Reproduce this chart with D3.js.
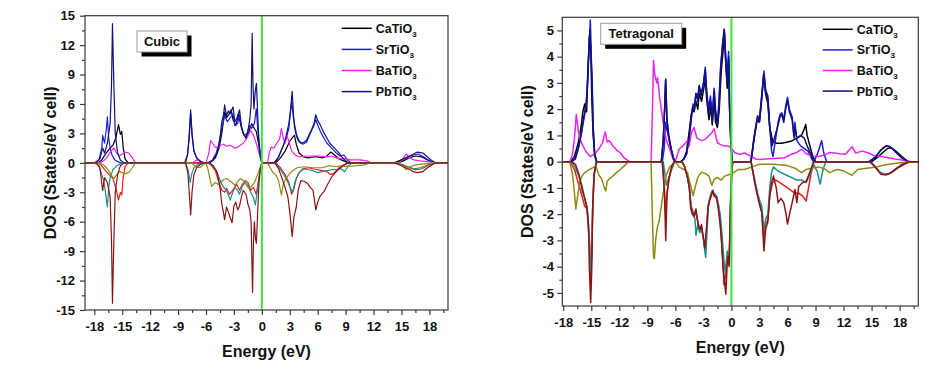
<!DOCTYPE html>
<html>
<head>
<meta charset="utf-8">
<script src="https://d3js.org/d3.v7.min.js"></script>
<style>
  body { margin: 0; background: #fff; }
  svg text { font-family: "Liberation Sans", Arial, sans-serif; font-weight: bold; fill: #111; }
</style>
</head>
<body>
<svg id="chart" width="939" height="371"></svg>
<script>
// legend names (subscript 3 added when drawing)
const compounds = ["CaTiO", "SrTiO", "BaTiO", "PbTiO"];
const upColors = ["#000000", "#1c1ce8", "#ee22ee", "#12127e"];
const downColors = ["#ee1c1c", "#1a9090", "#8c8c14", "#8a1414"];

const xTicks = [-18, -15, -12, -9, -6, -3, 0, 3, 6, 9, 12, 15, 18];
const cubicYTicks = [-15, -12, -9, -6, -3, 0, 3, 6, 9, 12, 15];
const tetraYTicks = [-5, -4, -3, -2, -1, 0, 1, 2, 3, 4, 5];

// ---- Cubic, spin up: [energy eV, DOS]
const cubicCaUp = [[-17.6,0],[-17.2,0.3],[-16.8,0.9],[-16.4,1.4],[-16.0,1.8],[-15.7,2.5],[-15.4,3.9],[-15.2,2.9],[-15.05,3.2],[-14.9,1.6],[-14.7,0.4],[-14.4,0.05],[-14.0,0],
  [-5.8,0],[-5.4,0.2],[-5.0,0.5],[-4.6,1.5],[-4.3,3.0],[-4.0,5.2],[-3.8,4.6],[-3.5,5.0],[-3.3,5.4],[-3.1,4.4],[-2.8,3.8],[-2.5,5.0],[-2.3,4.0],[-2.0,3.0],[-1.7,2.6],[-1.4,3.2],[-1.1,4.0],[-0.8,3.5],[-0.6,3.2],[-0.4,2.2],[-0.2,1.0],[0,0],
  [1.5,0],[2.0,0.5],[2.5,1.2],[3.0,2.2],[3.3,2.6],[3.5,2.8],[3.7,1.9],[4.0,1.0],[4.5,0.6],[5.0,0.5],[5.5,0.6],[6.0,0.6],[6.5,0.5],[7.0,0.7],[7.4,1.1],[7.8,0.8],[8.3,0.4],[8.8,0.2],[9.3,0],
  [14.5,0],[15.2,0.2],[15.8,0.5],[16.5,0.7],[17.2,0.6],[17.8,0.3],[18.5,0]];
const cubicSrUp = [[-18.0,0],[-17.5,0.3],[-17.2,1.5],[-17.1,2.8],[-16.9,2.0],[-16.7,3.5],[-16.6,4.7],[-16.45,2.5],[-16.3,1.5],[-16.1,0.8],[-15.8,0.3],[-15.3,0.05],[-15.0,0],
  [-8.3,0],[-8.0,0.8],[-7.8,2.5],[-7.65,5.0],[-7.5,2.8],[-7.3,1.2],[-7.0,0.5],[-6.7,0.2],[-6.3,0],
  [-5.7,0],[-5.3,0.3],[-4.9,1.0],[-4.6,2.0],[-4.3,3.5],[-4.0,4.8],[-3.7,4.2],[-3.4,4.6],[-3.1,5.0],[-2.9,3.8],[-2.6,4.0],[-2.4,4.9],[-2.2,3.6],[-1.9,2.8],[-1.6,3.0],[-1.3,3.8],[-1.1,3.5],[-0.8,4.0],[-0.6,5.5],[-0.4,3.0],[-0.2,1.2],[0,0],
  [1.3,0],[1.8,0.6],[2.2,1.5],[2.6,2.5],[2.9,3.5],[3.2,6.3],[3.4,4.5],[3.7,3.0],[4.0,2.2],[4.4,1.9],[4.8,2.1],[5.2,3.0],[5.6,3.8],[5.8,4.4],[6.1,3.6],[6.5,2.8],[7.0,2.0],[7.5,1.5],[8.0,1.0],[8.4,0.7],[8.8,0.8],[9.2,0.3],[9.6,0],
  [14.2,0],[15.0,0.3],[15.6,0.6],[16.3,0.8],[16.8,0.9],[17.4,0.6],[18.0,0.2],[18.6,0]];
const cubicBaUp = [[-17.5,0],[-17.0,0.2],[-16.6,0.6],[-16.2,1.2],[-15.9,1.5],[-15.6,1.0],[-15.3,0.7],[-15.0,0.9],[-14.7,1.1],[-14.3,1.0],[-13.9,0.5],[-13.6,0],
  [-7.4,0],[-7.1,0.25],[-6.8,0.3],[-6.5,0.1],[-6.2,0],
  [-6.0,0],[-5.7,1.0],[-5.5,2.3],[-5.3,2.0],[-5.0,1.6],[-4.7,1.5],[-4.4,1.8],[-4.1,1.9],[-3.8,1.7],[-3.5,1.8],[-3.2,1.7],[-2.9,1.5],[-2.6,1.6],[-2.3,1.8],[-2.0,2.0],[-1.7,2.4],[-1.5,2.7],[-1.2,3.3],[-0.9,2.8],[-0.6,2.0],[-0.3,1.0],[0,0],
  [0.6,0],[0.8,1.0],[1.0,1.6],[1.3,1.5],[1.6,2.0],[1.9,2.4],[2.1,3.5],[2.3,2.5],[2.5,2.0],[2.7,2.8],[2.9,2.2],[3.2,1.2],[3.6,0.8],[4.0,0.6],[5.0,0.7],[6.0,0.7],[7.0,0.6],[7.5,0.7],[8.0,0.5],[8.5,0.4],[9.0,0.4],[9.5,0.3],[10.5,0.3],[11.3,0.2],[11.7,0],
  [14.8,0],[15.2,0.5],[15.5,0.9],[15.8,0.6],[16.3,0.3],[17.0,0.2],[18.0,0.1],[18.6,0]];
const cubicPbUp = [[-17.8,0],[-17.4,0.4],[-17.1,1.5],[-16.9,1.0],[-16.6,2.0],[-16.3,4.0],[-16.15,8.0],[-16.05,14.2],[-15.9,8.0],[-15.75,3.0],[-15.5,1.0],[-15.2,0.3],[-14.8,0],
  [-8.2,0],[-7.95,1.0],[-7.8,3.0],[-7.65,5.4],[-7.5,3.0],[-7.3,1.2],[-7.0,0.5],[-6.6,0.15],[-6.2,0],
  [-5.6,0],[-5.2,0.3],[-4.8,1.0],[-4.5,2.5],[-4.3,4.2],[-4.1,5.0],[-4.0,5.9],[-3.8,4.8],[-3.6,5.3],[-3.4,5.0],[-3.1,5.7],[-2.9,4.2],[-2.7,4.5],[-2.4,5.4],[-2.2,3.8],[-2.0,3.0],[-1.7,2.5],[-1.5,3.2],[-1.3,4.4],[-1.15,6.0],[-1.04,13.2],[-0.95,8.0],[-0.85,5.5],[-0.7,7.4],[-0.58,8.1],[-0.45,5.0],[-0.3,2.0],[-0.15,0.5],[0,0],
  [1.4,0],[1.8,0.6],[2.1,1.3],[2.4,2.0],[2.6,2.7],[2.9,4.0],[3.1,5.5],[3.26,7.3],[3.4,5.0],[3.5,3.7],[3.7,2.8],[3.9,2.3],[4.2,2.0],[4.5,2.1],[4.8,2.3],[5.1,2.9],[5.3,3.3],[5.6,4.0],[5.8,4.9],[6.0,4.3],[6.2,4.0],[6.5,3.4],[6.7,3.0],[7.0,2.5],[7.3,2.0],[7.6,1.7],[7.8,1.5],[8.1,1.2],[8.3,1.0],[8.6,0.6],[8.9,0.3],[9.3,0],
  [14.3,0],[15.0,0.3],[15.7,0.6],[16.3,0.9],[16.7,1.1],[17.3,1.0],[17.8,0.6],[18.3,0.2],[18.7,0]];

// ---- Cubic, spin down
const cubicCaDn = [[-17.6,0],[-17.2,-0.3],[-16.8,-0.8],[-16.4,-1.2],[-16.0,-1.6],[-15.7,-2.5],[-15.4,-3.8],[-15.2,-3.0],[-15.05,-3.3],[-14.9,-1.5],[-14.7,-0.4],[-14.4,0],
  [-5.8,0],[-5.4,-0.3],[-5.0,-0.8],[-4.6,-2.0],[-4.3,-2.8],[-4.0,-3.0],[-3.8,-2.6],[-3.5,-3.2],[-3.3,-3.0],[-3.0,-2.6],[-2.7,-2.2],[-2.4,-2.8],[-2.1,-2.2],[-1.8,-1.8],[-1.5,-2.0],[-1.2,-2.8],[-0.9,-2.5],[-0.6,-3.2],[-0.4,-2.0],[-0.2,-0.8],[0,0],
  [1.5,0],[2.0,-0.5],[2.5,-1.2],[2.9,-2.0],[3.2,-3.2],[3.4,-2.8],[3.7,-1.6],[4.0,-1.0],[4.5,-0.6],[5.0,-0.5],[5.5,-0.6],[6.0,-0.7],[6.5,-0.8],[7.0,-0.9],[7.4,-1.2],[7.8,-1.0],[8.3,-0.5],[8.8,-0.2],[9.3,0],
  [14.5,0],[15.2,-0.2],[15.8,-0.5],[16.5,-0.7],[17.2,-0.6],[17.8,-0.3],[18.5,0]];
const cubicSrDn = [[-18.0,0],[-17.5,-0.3],[-17.2,-1.2],[-17.0,-1.8],[-16.8,-3.0],[-16.6,-4.5],[-16.45,-2.5],[-16.3,-1.5],[-16.0,-0.7],[-15.6,-0.3],[-15.0,0],
  [-8.2,0],[-7.9,-0.8],[-7.7,-2.0],[-7.55,-1.2],[-7.3,-0.5],[-6.9,-0.2],[-6.4,0],
  [-5.7,0],[-5.3,-0.3],[-4.9,-0.8],[-4.6,-1.5],[-4.3,-2.2],[-4.0,-2.6],[-3.7,-3.0],[-3.4,-3.8],[-3.2,-3.2],[-2.9,-2.5],[-2.6,-2.8],[-2.4,-3.2],[-2.1,-2.4],[-1.8,-2.0],[-1.5,-2.3],[-1.2,-3.0],[-0.9,-3.5],[-0.7,-4.3],[-0.5,-3.0],[-0.3,-1.5],[-0.1,-0.4],[0,0],
  [1.3,0],[1.8,-0.4],[2.2,-1.0],[2.6,-1.6],[3.0,-2.4],[3.3,-3.0],[3.6,-1.8],[4.0,-1.0],[4.4,-0.6],[5.0,-0.7],[5.5,-0.8],[6.0,-1.0],[6.5,-0.9],[7.0,-0.8],[7.5,-0.7],[8.0,-0.7],[8.5,-0.6],[8.9,-0.9],[9.3,-0.3],[9.7,0],
  [14.2,0],[15.0,-0.2],[15.7,-0.4],[16.4,-0.6],[17.0,-0.5],[17.6,-0.3],[18.3,0]];
const cubicBaDn = [[-17.5,0],[-17.0,-0.2],[-16.6,-0.6],[-16.2,-1.2],[-15.9,-1.6],[-15.6,-1.2],[-15.3,-0.9],[-15.0,-1.0],[-14.7,-1.1],[-14.3,-1.0],[-13.9,-0.5],[-13.6,0],
  [-7.6,0],[-7.3,-0.2],[-7.0,-0.4],[-6.7,-0.5],[-6.4,-0.3],[-6.1,0],
  [-6.0,0],[-5.8,-0.6],[-5.6,-1.5],[-5.4,-2.4],[-5.2,-2.2],[-5.0,-2.0],[-4.7,-2.2],[-4.4,-2.0],[-4.1,-1.7],[-3.8,-1.6],[-3.5,-1.8],[-3.2,-2.0],[-2.9,-2.3],[-2.6,-1.9],[-2.3,-1.6],[-2.0,-1.8],[-1.7,-2.2],[-1.4,-2.6],[-1.1,-2.4],[-0.8,-2.0],[-0.5,-1.3],[-0.2,-0.5],[0,0],
  [0.6,0],[0.9,-0.5],[1.2,-1.0],[1.5,-1.2],[1.8,-1.8],[2.1,-3.3],[2.3,-2.2],[2.6,-1.6],[2.9,-1.2],[3.3,-0.8],[3.8,-0.5],[4.5,-0.4],[5.5,-0.5],[6.5,-0.5],[7.2,-0.3],[8.0,-0.4],[8.5,-0.3],[9.0,-0.35],[10.0,-0.3],[11.0,-0.2],[11.6,0],
  [14.8,0],[15.2,-0.4],[15.5,-0.7],[15.9,-0.4],[16.5,-0.2],[17.5,-0.1],[18.5,0]];
const cubicPbDn = [[-17.8,0],[-17.4,-0.5],[-17.1,-2.8],[-16.9,-1.5],[-16.6,-2.0],[-16.3,-3.5],[-16.15,-8.0],[-16.05,-14.3],[-15.9,-8.0],[-15.75,-3.0],[-15.5,-1.2],[-15.2,-0.3],[-14.8,0],
  [-8.2,0],[-7.95,-1.0],[-7.8,-3.0],[-7.65,-5.3],[-7.5,-3.0],[-7.3,-1.2],[-7.0,-0.5],[-6.6,-0.15],[-6.2,0],
  [-5.6,0],[-5.2,-0.3],[-4.8,-1.0],[-4.5,-2.5],[-4.3,-4.2],[-4.1,-5.2],[-4.0,-5.8],[-3.8,-4.5],[-3.6,-5.0],[-3.4,-5.6],[-3.2,-6.1],[-3.0,-4.4],[-2.8,-4.0],[-2.6,-4.8],[-2.4,-4.4],[-2.2,-3.5],[-2.0,-2.8],[-1.7,-3.2],[-1.5,-4.2],[-1.3,-4.8],[-1.15,-6.0],[-1.0,-13.2],[-0.9,-8.0],[-0.8,-6.0],[-0.68,-7.8],[-0.58,-8.2],[-0.45,-5.0],[-0.3,-2.0],[-0.15,-0.5],[0,0],
  [1.4,0],[1.8,-0.6],[2.1,-1.4],[2.5,-2.5],[2.8,-3.5],[3.0,-5.0],[3.26,-7.5],[3.45,-5.5],[3.7,-4.5],[3.9,-2.8],[4.2,-1.8],[4.6,-1.9],[4.9,-2.1],[5.2,-2.5],[5.5,-2.8],[5.8,-4.8],[6.0,-4.0],[6.2,-3.5],[6.5,-3.1],[6.7,-2.9],[7.0,-2.3],[7.3,-1.8],[7.6,-1.3],[7.8,-1.1],[8.2,-0.7],[8.6,-0.4],[9.0,-0.15],[9.3,0],
  [14.3,0],[15.0,-0.3],[15.7,-0.6],[16.3,-0.9],[16.7,-1.0],[17.3,-0.9],[17.8,-0.5],[18.3,-0.2],[18.7,0]];

// ---- Tetragonal, spin up
const tetraCaUp = [[-17.2,0],[-16.8,0.2],[-16.4,0.7],[-16.1,1.3],[-15.9,1.9],[-15.7,2.2],[-15.5,1.9],[-15.35,3.5],[-15.2,4.8],[-15.05,4.4],[-14.95,2.5],[-14.8,1.0],[-14.6,0.2],[-14.4,0],
  [-7.5,0],[-7.3,0.8],[-7.15,2.0],[-7.05,3.1],[-6.9,1.6],[-6.7,0.9],[-6.45,0.45],[-6.2,0.1],[-6.0,0],
  [-5.4,0],[-5.1,0.1],[-4.8,0.4],[-4.5,1.2],[-4.3,1.8],[-4.15,2.0],[-4.0,1.9],[-3.8,2.3],[-3.6,2.0],[-3.45,2.6],[-3.2,2.3],[-2.95,2.8],[-2.8,3.2],[-2.65,2.4],[-2.4,1.6],[-2.2,2.1],[-2.05,1.4],[-1.85,2.4],[-1.7,1.5],[-1.5,1.3],[-1.3,2.0],[-1.1,3.4],[-0.9,4.2],[-0.75,4.9],[-0.6,3.7],[-0.45,2.8],[-0.3,3.9],[-0.2,2.0],[-0.05,0.6],[0.1,0],
  [2.1,0],[2.4,0.8],[2.75,1.6],[3.0,1.5],[3.2,2.2],[3.45,3.3],[3.65,2.6],[3.9,2.2],[4.1,1.3],[4.4,0.8],[4.8,0.7],[5.4,0.7],[6.0,0.75],[6.5,0.8],[7.0,0.9],[7.5,1.0],[7.75,1.2],[7.95,1.42],[8.1,1.0],[8.4,0.6],[8.7,0.2],[9.0,0],
  [15.0,0],[15.6,0.15],[16.2,0.35],[16.7,0.5],[17.1,0.53],[17.6,0.4],[18.2,0.2],[18.9,0]];
const tetraSrUp = [[-17.2,0],[-16.8,0.1],[-16.5,0.35],[-16.2,0.8],[-15.9,1.4],[-15.7,1.8],[-15.5,2.3],[-15.35,3.6],[-15.2,4.6],[-15.1,5.4],[-15.0,4.0],[-14.9,3.0],[-14.8,1.3],[-14.65,0.3],[-14.45,0],
  [-7.4,0],[-7.2,0.5],[-7.05,1.5],[-6.9,1.2],[-6.7,0.9],[-6.45,0.5],[-6.2,0.15],[-6.0,0],
  [-5.4,0],[-5.1,0.1],[-4.8,0.3],[-4.5,0.9],[-4.3,1.6],[-4.1,2.2],[-3.95,2.0],[-3.8,2.6],[-3.6,2.5],[-3.45,2.9],[-3.25,2.6],[-3.0,2.9],[-2.8,3.6],[-2.65,2.7],[-2.45,2.0],[-2.25,2.5],[-2.05,1.8],[-1.85,2.8],[-1.7,2.0],[-1.5,1.5],[-1.35,2.2],[-1.15,3.6],[-0.95,4.4],[-0.75,5.0],[-0.6,4.0],[-0.45,3.2],[-0.3,4.2],[-0.2,2.2],[-0.05,0.7],[0.1,0],
  [2.1,0],[2.4,0.9],[2.8,1.75],[3.0,1.6],[3.2,2.4],[3.48,3.45],[3.66,2.75],[3.9,2.5],[4.1,1.35],[4.3,0.4],[4.45,0.2],[4.7,0.8],[5.0,1.5],[5.2,1.8],[5.4,1.86],[5.6,1.6],[5.8,2.1],[6.0,2.45],[6.2,2.0],[6.5,1.7],[6.7,1.0],[6.8,1.5],[7.0,0.8],[7.4,0.6],[7.8,0.5],[8.2,0.4],[8.6,0.1],[8.8,0],[9.1,0.2],[9.4,0.5],[9.65,0.8],[9.9,0.3],[10.2,0],
  [14.7,0],[15.3,0.15],[15.9,0.4],[16.5,0.6],[16.9,0.58],[17.5,0.4],[18.2,0.15],[18.9,0]];
const tetraBaUp = [[-17.3,0],[-17.0,0.3],[-16.8,0.9],[-16.6,1.8],[-16.4,1.2],[-16.2,0.85],[-15.9,0.6],[-15.5,0.35],[-15.1,0.2],[-14.6,0.3],[-14.2,0.47],[-13.8,0.72],[-13.5,1.13],[-13.3,0.75],[-13.1,0.8],[-12.9,0.72],[-12.7,0.6],[-12.3,0.45],[-11.9,0.34],[-11.5,0.15],[-10.9,0],
  [-8.6,0],[-8.45,2.0],[-8.34,3.86],[-8.2,3.3],[-8.0,3.0],[-7.9,3.2],[-7.7,2.5],[-7.5,2.0],[-7.3,1.5],[-7.0,0.85],[-6.6,0.47],[-6.3,0.15],[-6.1,0],
  [-6.0,0],[-5.6,0.47],[-5.2,0.6],[-4.7,0.8],[-4.5,0.6],[-4.3,1.1],[-4.0,1.3],[-3.7,0.9],[-3.2,0.8],[-2.8,0.85],[-2.4,1.0],[-2.1,1.1],[-1.85,1.25],[-1.5,0.72],[-1.2,0.66],[-0.8,0.6],[-0.4,0.6],[-0.1,0.55],[0.37,0.34],[0.9,0.28],[1.4,0.33],[2.0,0.22],[2.6,0.1],[3.0,0.08],[4.5,0.12],[5.7,0.15],[6.4,0.28],[7.0,0.35],[7.5,0.47],[8.0,0.3],[8.6,0.22],[9.3,0.2],[10.0,0.25],[10.5,0.35],[11.0,0.33],[11.6,0.3],[12.2,0.28],[12.9,0.57],[13.3,0.33],[14.0,0.4],[14.7,0.33],[15.4,0.2],[16.1,0.2],[16.8,0.15],[17.5,0.1],[18.4,0.05],[19.3,0]];
const tetraPbUp = [[-17.1,0],[-16.7,0.1],[-16.4,0.5],[-16.1,1.0],[-15.85,1.6],[-15.6,2.1],[-15.45,2.6],[-15.3,3.8],[-15.15,5.0],[-15.05,4.2],[-14.95,3.4],[-14.8,1.4],[-14.65,0.3],[-14.45,0],
  [-7.5,0],[-7.3,0.8],[-7.15,2.0],[-7.03,3.15],[-6.9,1.6],[-6.7,1.0],[-6.45,0.47],[-6.2,0.1],[-6.0,0],
  [-5.4,0],[-5.1,0.1],[-4.8,0.3],[-4.5,1.0],[-4.3,1.7],[-4.15,2.1],[-4.0,2.0],[-3.8,2.6],[-3.6,2.3],[-3.45,2.9],[-3.25,2.5],[-3.0,3.0],[-2.8,3.5],[-2.65,2.6],[-2.45,1.8],[-2.25,2.3],[-2.05,1.5],[-1.85,2.7],[-1.7,1.8],[-1.5,1.4],[-1.35,2.0],[-1.15,3.6],[-0.95,4.5],[-0.78,5.05],[-0.62,3.9],[-0.45,3.0],[-0.3,4.0],[-0.2,2.1],[-0.05,0.6],[0.1,0],
  [2.1,0],[2.4,0.85],[2.8,1.7],[3.0,1.55],[3.2,2.3],[3.48,3.35],[3.66,2.65],[3.9,2.4],[4.1,1.3],[4.35,0.6],[4.6,0.9],[5.0,1.4],[5.2,1.7],[5.4,1.8],[5.6,1.5],[5.8,2.0],[6.0,2.35],[6.2,1.9],[6.5,1.6],[6.7,0.9],[6.8,1.3],[7.0,0.9],[7.4,1.0],[7.8,0.9],[8.1,0.6],[8.5,0.3],[8.8,0],
  [14.9,0],[15.5,0.2],[16.0,0.45],[16.6,0.6],[17.0,0.57],[17.5,0.4],[18.2,0.15],[18.9,0]];

// ---- Tetragonal, spin down
const tetraCaDn = [[-17.3,0],[-16.8,-0.3],[-16.4,-0.8],[-16.0,-1.3],[-15.7,-1.7],[-15.45,-1.8],[-15.3,-2.6],[-15.17,-3.1],[-15.06,-4.5],[-14.95,-3.6],[-14.85,-1.8],[-14.7,-0.5],[-14.5,-0.1],[-14.4,0],
  [-7.4,0],[-7.2,-0.8],[-7.05,-2.0],[-6.9,-1.2],[-6.7,-0.7],[-6.45,-0.3],[-6.1,0],
  [-5.3,0],[-5.0,-0.2],[-4.7,-0.6],[-4.5,-1.0],[-4.35,-1.8],[-4.2,-2.0],[-4.0,-2.1],[-3.8,-1.9],[-3.6,-2.3],[-3.4,-2.6],[-3.2,-2.5],[-3.0,-2.95],[-2.85,-3.3],[-2.7,-2.8],[-2.5,-1.8],[-2.35,-1.5],[-2.15,-1.3],[-2.0,-1.1],[-1.85,-1.3],[-1.6,-1.4],[-1.4,-1.7],[-1.2,-2.3],[-1.05,-3.0],[-0.9,-3.9],[-0.8,-4.7],[-0.65,-4.4],[-0.5,-3.6],[-0.35,-3.5],[-0.24,-4.0],[-0.12,-2.0],[0.05,-0.3],[0.15,0],
  [2.1,0],[2.5,-0.8],[2.8,-1.3],[3.05,-1.6],[3.25,-1.9],[3.48,-2.9],[3.66,-2.4],[3.9,-2.2],[4.1,-1.3],[4.4,-0.8],[4.7,-0.7],[5.2,-0.8],[5.6,-0.9],[6.0,-1.0],[6.4,-1.1],[6.8,-1.2],[7.2,-1.2],[7.6,-1.3],[8.0,-1.5],[8.2,-1.1],[8.5,-0.5],[8.8,0],
  [14.9,0],[15.6,-0.3],[16.1,-0.48],[16.6,-0.5],[17.2,-0.4],[17.8,-0.25],[18.5,-0.1],[19.2,0]];
const tetraSrDn = [[-17.2,0],[-16.8,-0.15],[-16.4,-0.5],[-16.0,-0.9],[-15.7,-1.4],[-15.45,-1.7],[-15.3,-2.4],[-15.15,-3.6],[-15.05,-4.2],[-14.95,-3.5],[-14.85,-1.8],[-14.7,-0.5],[-14.45,0],
  [-7.3,0],[-7.1,-0.5],[-6.95,-0.9],[-6.7,-0.6],[-6.4,-0.3],[-6.1,0],
  [-5.3,0],[-5.0,-0.2],[-4.7,-0.6],[-4.5,-1.0],[-4.3,-1.7],[-4.1,-1.9],[-3.9,-2.2],[-3.8,-2.8],[-3.6,-2.4],[-3.4,-2.7],[-3.2,-2.6],[-3.0,-2.9],[-2.85,-3.4],[-2.75,-3.65],[-2.6,-2.6],[-2.45,-1.6],[-2.25,-1.3],[-2.05,-1.1],[-1.85,-1.2],[-1.6,-1.3],[-1.4,-1.6],[-1.2,-2.0],[-1.05,-2.6],[-0.9,-3.3],[-0.75,-4.0],[-0.6,-4.3],[-0.45,-3.4],[-0.3,-3.7],[-0.2,-3.2],[-0.08,-1.2],[0.1,0],
  [2.1,0],[2.5,-0.7],[2.8,-1.2],[3.05,-1.5],[3.25,-1.7],[3.48,-2.6],[3.66,-2.2],[3.9,-2.0],[4.1,-1.0],[4.3,-0.4],[4.5,-0.2],[4.8,-0.3],[5.2,-0.4],[5.8,-0.5],[6.4,-0.6],[7.0,-0.7],[7.5,-0.7],[8.0,-0.8],[8.4,-0.5],[8.8,-0.1],[9.2,-0.4],[9.5,-0.85],[9.8,-0.3],[10.1,0],
  [14.7,0],[15.3,-0.15],[15.9,-0.4],[16.4,-0.48],[16.9,-0.45],[17.5,-0.3],[18.2,-0.1],[18.9,0]];
const tetraBaDn = [[-17.3,0],[-17.0,-0.5],[-16.8,-1.2],[-16.65,-1.8],[-16.45,-1.3],[-16.25,-0.8],[-16.0,-0.55],[-15.7,-0.42],[-15.2,-0.3],[-14.5,-0.17],[-14.2,-0.5],[-13.9,-0.65],[-13.6,-1.0],[-13.45,-1.12],[-13.3,-0.75],[-13.1,-0.67],[-12.7,-0.55],[-12.3,-0.42],[-11.9,-0.3],[-11.5,-0.17],[-11.0,0],
  [-8.6,0],[-8.45,-2.2],[-8.34,-3.6],[-8.25,-3.7],[-8.1,-2.95],[-7.9,-2.45],[-7.75,-2.3],[-7.55,-1.8],[-7.35,-1.3],[-7.0,-0.55],[-6.6,-0.2],[-6.2,-0.05],[-6.05,0],
  [-6.0,0],[-5.6,-0.2],[-5.1,-0.3],[-4.7,-0.42],[-4.35,-0.93],[-4.1,-1.3],[-3.9,-1.0],[-3.6,-0.6],[-3.2,-0.4],[-2.8,-0.45],[-2.4,-0.55],[-2.1,-0.9],[-1.85,-0.67],[-1.5,-0.6],[-1.1,-0.7],[-0.7,-0.55],[-0.3,-0.5],[0.1,-0.45],[0.7,-0.3],[1.4,-0.3],[2.2,-0.2],[3.0,-0.1],[4.5,-0.1],[6.0,-0.15],[6.8,-0.25],[7.5,-0.42],[8.0,-0.3],[8.6,-0.25],[9.3,-0.2],[10.0,-0.28],[10.5,-0.42],[11.3,-0.3],[12.0,-0.35],[12.9,-0.52],[13.5,-0.3],[14.5,-0.25],[15.5,-0.2],[16.5,-0.12],[17.8,-0.05],[19.3,0]];
const tetraPbDn = [[-17.1,0],[-16.7,-0.1],[-16.3,-0.5],[-16.0,-1.05],[-15.7,-1.4],[-15.45,-1.8],[-15.3,-2.4],[-15.2,-4.1],[-15.06,-5.37],[-14.95,-4.1],[-14.85,-1.8],[-14.7,-0.5],[-14.5,-0.1],[-14.45,0],
  [-7.4,0],[-7.2,-1.0],[-7.1,-2.0],[-7.03,-3.0],[-6.9,-1.3],[-6.7,-0.67],[-6.4,-0.2],[-6.1,0],
  [-5.3,0],[-5.0,-0.2],[-4.7,-0.6],[-4.5,-1.0],[-4.35,-1.7],[-4.2,-1.95],[-4.0,-2.07],[-3.8,-1.8],[-3.6,-2.3],[-3.4,-2.6],[-3.2,-2.4],[-3.0,-2.9],[-2.85,-3.3],[-2.7,-2.7],[-2.5,-1.7],[-2.35,-1.5],[-2.15,-1.25],[-2.0,-1.1],[-1.85,-1.3],[-1.6,-1.35],[-1.4,-1.8],[-1.2,-2.4],[-1.05,-3.1],[-0.9,-4.0],[-0.75,-4.5],[-0.6,-5.05],[-0.45,-3.9],[-0.35,-3.6],[-0.24,-3.96],[-0.12,-1.8],[0.05,-0.3],[0.15,0],
  [2.1,0],[2.5,-0.8],[2.8,-1.3],[3.05,-1.7],[3.25,-1.94],[3.48,-3.4],[3.66,-2.57],[3.9,-2.3],[4.1,-1.3],[4.3,-0.8],[4.5,-0.55],[4.8,-1.0],[5.0,-1.56],[5.3,-1.4],[5.6,-1.56],[5.85,-2.0],[6.0,-2.38],[6.25,-1.95],[6.5,-1.56],[6.8,-1.06],[7.0,-1.56],[7.2,-0.95],[7.6,-0.8],[8.0,-0.75],[8.4,-0.4],[8.8,0],
  [14.9,0],[15.5,-0.25],[16.0,-0.48],[16.5,-0.5],[17.1,-0.42],[17.7,-0.25],[18.4,-0.1],[19.0,0]];

const svg = d3.select("#chart");

function drawPanel(p) {
  const x = d3.scaleLinear().domain(p.xDomain).range([p.left, p.right]);
  const y = d3.scaleLinear().domain(p.yDomain).range([p.bottom, p.top]);
  const g = svg.append("g");

  g.append("clipPath").attr("id", p.id)
    .append("rect")
    .attr("x", p.left).attr("y", p.top)
    .attr("width", p.right - p.left).attr("height", p.bottom - p.top);

  const line = d3.line().x(d => x(d[0])).y(d => y(d[1]));
  const plot = g.append("g").attr("clip-path", "url(#" + p.id + ")");

  function addCurve(s, c) {
    const pts = [[p.xDomain[0], 0]].concat(s, [[p.xDomain[1], 0]]);
    plot.append("path")
      .attr("d", line(pts))
      .attr("fill", "none")
      .attr("stroke", c)
      .attr("stroke-width", p.lw)
      .attr("stroke-linejoin", "round");
  }
  p.up.forEach((s, i) => addCurve(s, upColors[i]));
  p.down.forEach((s, i) => addCurve(s, downColors[i]));

  // Fermi level
  g.append("line")
    .attr("x1", x(0)).attr("x2", x(0))
    .attr("y1", p.top).attr("y2", p.bottom)
    .attr("stroke", "#3fe03f").attr("stroke-width", 2);

  // frame
  g.append("rect")
    .attr("x", p.left).attr("y", p.top)
    .attr("width", p.right - p.left).attr("height", p.bottom - p.top)
    .attr("fill", "none").attr("stroke", "#3a3a3a").attr("stroke-width", 1.2);

  const xMinor = xTicks.slice(1).map((t, i) => (t + xTicks[i]) / 2)
    .concat([xTicks[0] - 1.5, xTicks[xTicks.length - 1] + 1.5])
    .filter(t => t >= p.xDomain[0] && t <= p.xDomain[1]);
  const yMinor = p.yTicks.slice(1).map((t, i) => (t + p.yTicks[i]) / 2);

  function styleAxis(a) {
    a.select(".domain").remove();
    a.selectAll("line").attr("stroke", "#3a3a3a").attr("stroke-width", 1.2);
    a.selectAll("text").attr("font-size", 13).attr("fill", "#111");
  }

  g.append("g").attr("transform", "translate(0," + p.bottom + ")")
    .call(d3.axisBottom(x).tickValues(xTicks).tickSize(5).tickPadding(7).tickFormat(d => String(d)))
    .call(styleAxis);
  g.append("g").attr("transform", "translate(0," + p.bottom + ")")
    .call(d3.axisBottom(x).tickValues(xMinor).tickSize(3).tickFormat(""))
    .call(styleAxis);
  g.append("g").attr("transform", "translate(" + p.left + ",0)")
    .call(d3.axisLeft(y).tickValues(p.yTicks).tickSize(5).tickPadding(p.yPad).tickFormat(d => String(d)))
    .call(styleAxis);
  g.append("g").attr("transform", "translate(" + p.left + ",0)")
    .call(d3.axisLeft(y).tickValues(yMinor).tickSize(3).tickFormat(""))
    .call(styleAxis);

  // axis titles
  g.append("text")
    .attr("x", (p.left + p.right) / 2).attr("y", p.xTitleY)
    .attr("text-anchor", "middle").attr("font-size", 16)
    .text("Energy (eV)");
  g.append("text")
    .attr("transform", "translate(" + p.yTitleX + "," + (p.top + p.bottom) / 2 + ") rotate(-90)")
    .attr("text-anchor", "middle").attr("font-size", 16)
    .text("DOS (States/eV cell)");

  // structure label box with shadow
  const b = p.box;
  g.append("rect").attr("x", b.x + 4.5).attr("y", b.y + 4.5)
    .attr("width", b.w).attr("height", b.h).attr("fill", "#000");
  g.append("rect").attr("x", b.x).attr("y", b.y)
    .attr("width", b.w).attr("height", b.h)
    .attr("fill", "#fff").attr("stroke", "#9a9a9a").attr("stroke-width", 1);
  g.append("text").attr("x", b.x + b.w / 2).attr("y", b.y + b.h / 2 + 4.6)
    .attr("text-anchor", "middle").attr("font-size", 13)
    .text(b.label);

  // legend
  const lg = p.legend;
  compounds.forEach((name, i) => {
    const cy = lg.y + i * lg.dy;
    g.append("line")
      .attr("x1", lg.x).attr("x2", lg.x + 30)
      .attr("y1", cy).attr("y2", cy)
      .attr("stroke", upColors[i]).attr("stroke-width", 1.5);
    const t = g.append("text")
      .attr("x", lg.x + 34).attr("y", cy + 4.5)
      .attr("font-size", 12.5);
    t.append("tspan").text(name);
    t.append("tspan").attr("font-size", 8).attr("dy", 4).text("3");
  });
}

drawPanel({
  id: "clipCubic",
  left: 85, right: 448, top: 15.7, bottom: 310,
  xDomain: [-19, 20], yDomain: [-15, 15], yTicks: cubicYTicks,
  yPad: 5, lw: 1.2,
  up: [cubicCaUp, cubicSrUp, cubicBaUp, cubicPbUp],
  down: [cubicCaDn, cubicSrDn, cubicBaDn, cubicPbDn],
  xTitleY: 357, yTitleX: 55.5,
  box: { x: 137, y: 31, w: 50, h: 21, label: "Cubic" },
  legend: { x: 341.7, y: 28.3, dy: 21.1 }
});

drawPanel({
  id: "clipTetra",
  left: 562.3, right: 918.3, top: 17.3, bottom: 306,
  xDomain: [-18.1, 20], yDomain: [-5.5, 5.5], yTicks: tetraYTicks,
  yPad: 3.3, lw: 1.5,
  up: [tetraCaUp, tetraSrUp, tetraBaUp, tetraPbUp],
  down: [tetraCaDn, tetraSrDn, tetraBaDn, tetraPbDn],
  xTitleY: 352.5, yTitleX: 533,
  box: { x: 600.7, y: 23.3, w: 81, h: 21, label: "Tetragonal" },
  legend: { x: 822.7, y: 29.3, dy: 20.6 }
});
</script>
</body>
</html>
